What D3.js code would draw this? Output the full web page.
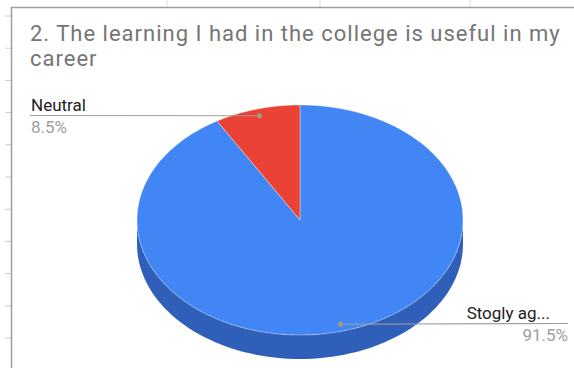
<!DOCTYPE html>
<html>
<head>
<meta charset="utf-8">
<script src="https://cdn.jsdelivr.net/npm/d3@7"></script>
<style>
  body { margin: 0; background: #fff; }
  text { font-family: Roboto, Arial, sans-serif; }
</style>
</head>
<body>
<div id="chart"></div>
<script>
// Chart data
const categories = ["Stogly agree", "Neutral"];
const shortLabels = ["Stogly ag...", "Neutral"];
const values = [91.5, 8.5];
const colors = ["#4285f4", "#ea4335"];
const titleLines = ["2. The learning I had in the college is useful in my", "career"];

const W = 574, H = 368;
const cx = 300, cy = 220, rx = 163, ry = 115, depth = 24;

const svg = d3.select("#chart").append("svg")
  .attr("width", W).attr("height", H);

// spreadsheet-like frame with faint ticks outside it
const frame = svg.append("g");
for (let y = 16; y < H; y += 32.2) {
  frame.append("line").attr("x1", 5).attr("x2", 11).attr("y1", y).attr("y2", y)
    .attr("stroke", "#ccc").attr("stroke-width", 1);
}
[167, 320, 470].forEach(x => {
  frame.append("line").attr("x1", x).attr("x2", x).attr("y1", 0).attr("y2", 7)
    .attr("stroke", "#ddd").attr("stroke-width", 1);
});
frame.append("path")
  .attr("d", `M11.5,${H} V7.5 H${W}`)
  .attr("fill", "none").attr("stroke", "#9e9e9e").attr("stroke-width", 1.5);

// title
const title = svg.append("text").attr("x", 30).attr("y", 41)
  .attr("fill", "#757575").style("font-size", "22px").style("letter-spacing", "1px");
titleLines.forEach((t, i) => {
  title.append("tspan").attr("x", 30).attr("dy", i === 0 ? 0 : 25).text(t);
});

// pie angles (clockwise from top)
const pie = d3.pie().sort(null).value(d => d)(values);

// ellipse point for angle t (radians, clockwise from top), radial fraction f
const pt = (t, f = 1, dz = 0) => [cx + rx * f * Math.sin(t), cy - ry * f * Math.cos(t) + dz];

// side wall (front half: angles pi/2 .. 3pi/2)
function sidePath(a0, a1) {
  const s = Math.max(a0, Math.PI / 2), e = Math.min(a1, 3 * Math.PI / 2);
  if (e <= s) return null;
  const n = 80, top = [], bot = [];
  for (let i = 0; i <= n; i++) {
    const t = s + (e - s) * i / n;
    top.push(pt(t));
    bot.push(pt(t, 1, depth));
  }
  return d3.line()(top.concat(bot.reverse())) + "Z";
}

const shade = c => d3.color(c).darker(0.75).formatHex();

pie.forEach((p, i) => {
  const d = sidePath(p.startAngle, p.endAngle);
  if (d) svg.append("path").attr("d", d).attr("fill", i === 0 ? "#2f5fb8" : shade(colors[i]));
});

// top faces
function topPath(a0, a1) {
  const n = Math.max(4, Math.ceil((a1 - a0) / 0.02));
  const pts = [[cx, cy]];
  for (let i = 0; i <= n; i++) pts.push(pt(a0 + (a1 - a0) * i / n));
  return d3.line()(pts) + "Z";
}

svg.selectAll(".slice").data(pie).enter().append("path")
  .attr("class", "slice")
  .attr("d", d => topPath(d.startAngle, d.endAngle))
  .attr("fill", (d, i) => colors[i])
  .attr("stroke", "rgba(255,255,255,0.45)")
  .attr("stroke-width", 0.8)
  .attr("stroke-linejoin", "round");

// labels with leader lines
const labelSpec = [
  { endX: 568, anchor: "end", tx: 550, px: 568 },
  { endX: 30, anchor: "start", tx: 31, px: 31 }
];

pie.forEach((p, i) => {
  const mid = (p.startAngle + p.endAngle) / 2;
  const [dx, dy] = pt(mid, 0.94);
  const s = labelSpec[i];
  const ly = Math.round(dy) - 0.5;
  svg.append("line")
    .attr("x1", dx).attr("y1", dy).attr("x2", s.endX).attr("y2", ly)
    .attr("stroke", "#9e9e9e").attr("stroke-width", 1.2);
  svg.append("circle").attr("cx", dx).attr("cy", dy).attr("r", 2.5).attr("fill", "#a59a86");
  svg.append("text").attr("x", s.tx).attr("y", ly - 5)
    .attr("text-anchor", s.anchor).attr("fill", "#222").style("font-size", "17px")
    .text(shortLabels[i]);
  svg.append("text").attr("x", s.px).attr("y", ly + 17.5)
    .attr("text-anchor", s.anchor).attr("fill", "#9e9e9e").style("font-size", "17px")
    .text(d3.format(".1f")(values[i]) + "%");
});
</script>
</body>
</html>
